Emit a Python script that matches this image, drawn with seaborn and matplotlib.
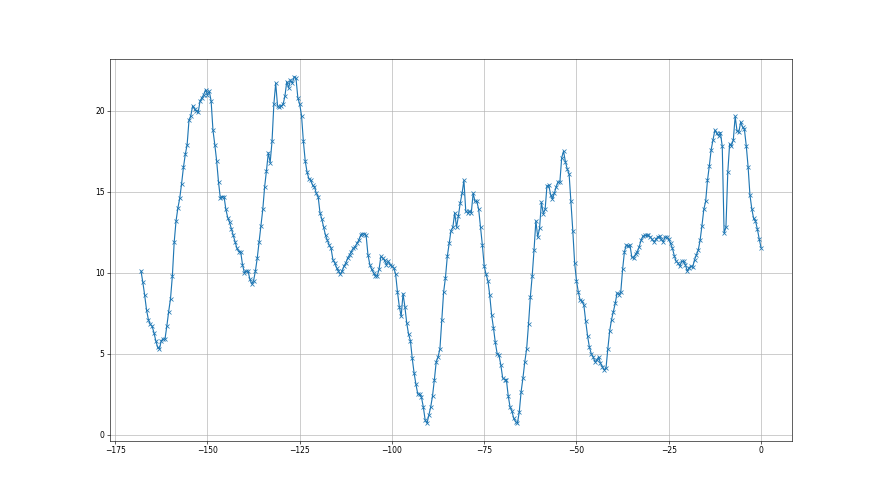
import numpy as np
import matplotlib
matplotlib.use('Agg')
import matplotlib.pyplot as plt
import seaborn as sns

# hours before now, half-hour steps
hours = np.arange(-168, 0.5, 0.5)

# readings, one list per day (48 half hours each, last one has the final point)
day1 = [10.1, 9.4, 8.6, 7.7, 7.1, 6.8, 6.7, 6.3, 5.8, 5.4,
        5.3, 5.8, 5.9, 5.9, 6.7, 7.6, 8.4, 9.8, 11.9, 13.2,
        14.0, 14.6, 15.5, 16.5, 17.3, 17.9, 19.4, 19.7, 20.3, 20.1,
        20.0, 19.9, 20.6, 20.8, 21.0, 21.3, 21.0, 21.2, 20.6, 18.8,
        17.9, 16.9, 15.6, 14.6, 14.7, 14.7, 13.9, 13.4]
day2 = [13.1, 12.7,
        12.3, 11.9, 11.5, 11.3, 11.3, 10.5, 10.0, 10.1, 10.1, 9.6,
        9.3, 9.5, 10.1, 10.9, 11.9, 12.9, 13.9, 15.3, 16.3, 17.4,
        16.8, 18.1, 20.4, 21.7, 20.3, 20.2, 20.3, 20.4, 20.9, 21.8,
        21.4, 21.9, 21.7, 22.1, 22.0, 20.8, 20.4, 19.7, 18.1, 16.9,
        16.2, 15.8, 15.7, 15.4, 15.3, 14.9]
day3 = [14.7, 13.7, 13.3, 12.8,
        12.3, 12.0, 11.7, 11.5, 10.8, 10.6, 10.3, 10.1, 9.9, 10.1,
        10.4, 10.6, 10.9, 11.1, 11.3, 11.5, 11.6, 11.8, 12.0, 12.3,
        12.4, 12.4, 12.3, 11.1, 10.5, 10.2, 10.0, 9.8, 9.8, 10.2,
        11.0, 10.9, 10.75, 10.5, 10.7, 10.5, 10.4, 10.3, 9.9, 8.8,
        7.9, 7.3, 8.7, 7.9]
day4 = [6.9, 6.2, 5.8, 4.7, 3.8, 3.1,
        2.5, 2.5, 2.3, 1.7, 0.9, 0.7, 1.2, 1.7, 2.4, 3.4,
        4.5, 4.8, 5.3, 7.1, 8.8, 9.7, 11.0, 11.8, 12.6, 12.8,
        13.7, 12.8, 13.5, 14.3, 14.9, 15.7, 13.8, 13.7, 13.8, 13.7,
        14.9, 14.4, 14.4, 13.9, 12.8, 11.7, 10.4, 9.9, 9.5, 8.6,
        7.4, 6.6]
day5 = [5.7, 5.0, 4.9, 4.3, 3.5, 3.4, 3.4, 2.4,
        1.7, 1.45, 1.0, 0.8, 0.7, 1.4, 2.65, 3.5, 4.5, 5.3,
        6.8, 8.5, 9.8, 11.4, 13.2, 12.2, 12.75, 14.35, 13.65, 13.9,
        15.35, 15.4, 14.8, 14.55, 14.9, 15.3, 15.6, 15.6, 17.1, 17.5,
        16.85, 16.4, 16.1, 14.4, 12.6, 10.6, 9.5, 8.8, 8.3, 8.25]
day6 = [8.0, 7.0, 6.1, 5.4, 5.0, 4.8, 4.5, 4.6, 4.8, 4.4,
        4.2, 4.0, 4.1, 5.3, 6.4, 7.1, 7.6, 8.1, 8.75, 8.65,
        8.8, 10.2, 11.3, 11.7, 11.65, 11.7, 10.95, 10.9, 11.15, 11.3,
        11.6, 12.0, 12.25, 12.3, 12.3, 12.3, 12.2, 12.05, 11.9, 12.05,
        12.2, 12.25, 12.05, 11.9, 12.2, 12.2, 12.05, 11.8]
day7 = [11.5, 11.05,
        10.7, 10.6, 10.4, 10.7, 10.7, 10.5, 10.1, 10.3, 10.4, 10.35,
        10.8, 11.1, 11.4, 12.0, 12.9, 13.9, 14.4, 15.7, 16.6, 17.6,
        18.2, 18.8, 18.6, 18.45, 18.65, 17.8, 12.45, 12.8, 16.2, 17.95,
        17.85, 18.2, 19.65, 18.75, 18.7, 19.3, 19.0, 18.85, 17.85, 16.55,
        14.8, 13.95, 13.35, 13.2, 12.7, 12.1, 11.55]

values = day1 + day2 + day3 + day4 + day5 + day6 + day7

fig, ax = plt.subplots(figsize=(16, 9), dpi=55)
sns.lineplot(x=hours, y=values, marker='x', color='#1f77b4',
             markeredgecolor='#1f77b4', markeredgewidth=1.0, markersize=6,
             sort=False, ax=ax)
ax.grid(True)
plt.savefig('out.png', dpi=55)
